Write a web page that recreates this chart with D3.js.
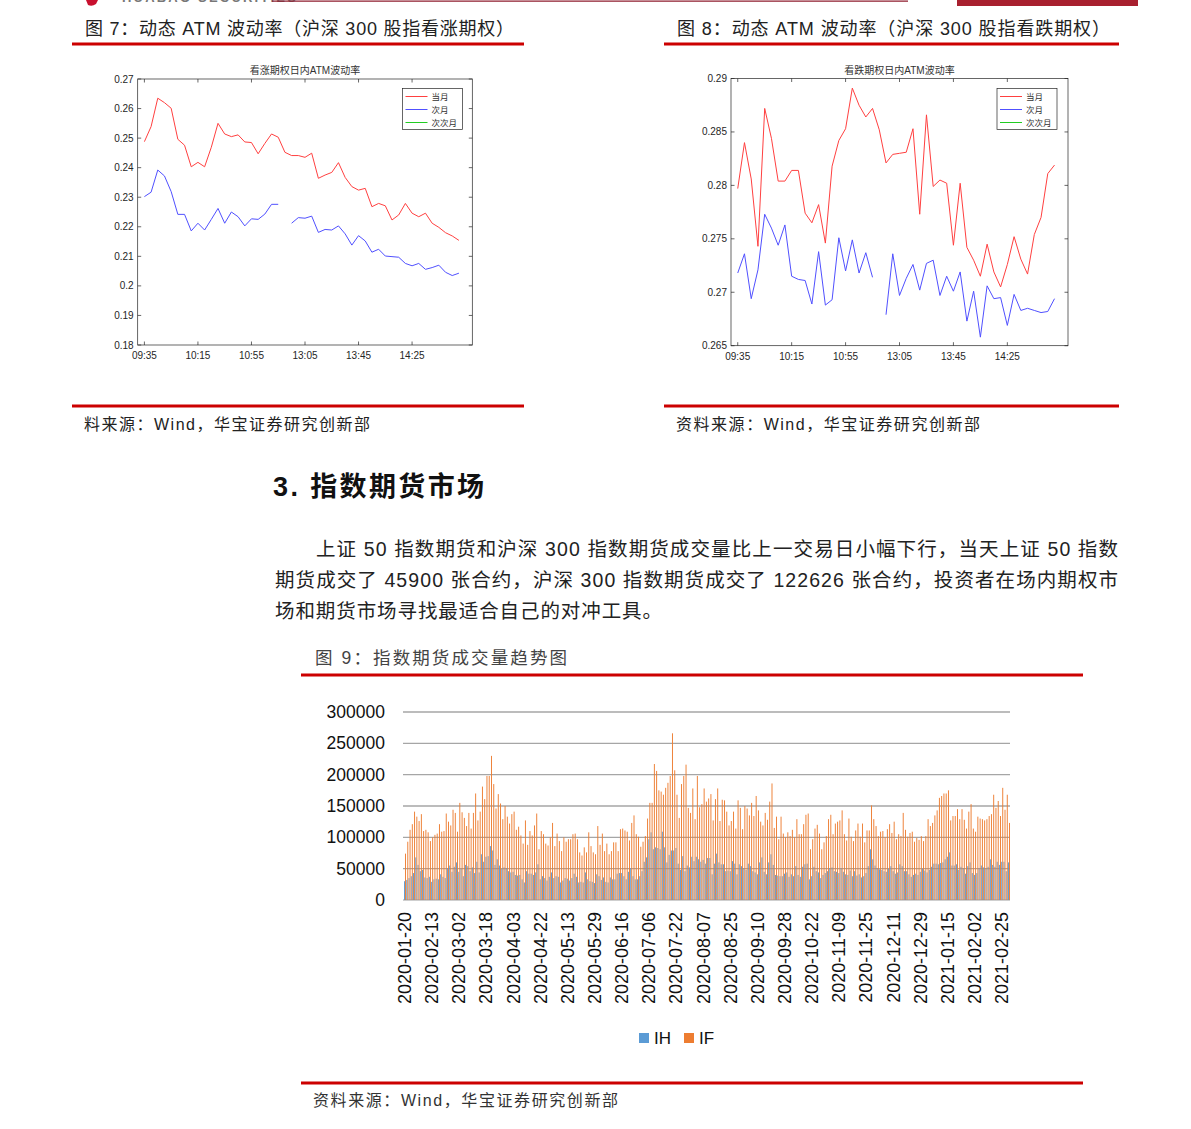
<!DOCTYPE html>
<html><head><meta charset="utf-8">
<script src="https://cdn.jsdelivr.net/npm/d3@7"></script>
<style>body{margin:0;background:#fff}svg{display:block}</style>
</head><body><svg id="c" width="1191" height="1129"></svg>
<script>
// ---------- data: intraday ATM volatility ----------
const times = ["09:35","09:40","09:45","09:50","09:55","10:00","10:05","10:10","10:15","10:20","10:25","10:30","10:35","10:40","10:45","10:50","10:55","11:00","11:05","11:10","11:15","11:20","11:25","11:30","13:05","13:10","13:15","13:20","13:25","13:30","13:35","13:40","13:45","13:50","13:55","14:00","14:05","14:10","14:15","14:20","14:25","14:30","14:35","14:40","14:45","14:50","14:55","15:00"];
const timeTickLabels = ["09:35","10:15","10:55","13:05","13:45","14:25"];
const legendNames = ["当月","次月","次次月"];

const callFront = [0.2488,0.2539,0.2635,0.2620,0.2601,0.2496,0.2476,0.2403,0.2418,0.2403,0.2469,0.2550,0.2514,0.2505,0.2511,0.2487,0.2485,0.2447,0.2482,0.2514,0.2503,0.2452,0.2441,0.2441,0.2435,0.2449,0.2364,0.2375,0.2384,0.2417,0.2367,0.2336,0.2324,0.2330,0.2268,0.2279,0.2271,0.2223,0.2240,0.2279,0.2246,0.2234,0.2246,0.2212,0.2198,0.2180,0.2169,0.2154];
const callNext = [0.2302,0.2317,0.2392,0.2372,0.2319,0.2242,0.2242,0.2186,0.2212,0.2189,0.2225,0.2262,0.2212,0.2250,0.2234,0.2203,0.2227,0.2225,0.2243,0.2276,0.2276,null,0.2212,0.2231,0.2229,0.2236,0.2181,0.2191,0.2189,0.2203,0.2176,0.2138,0.2170,0.2152,0.2114,0.2124,0.2101,0.2099,0.2097,0.2076,0.2068,0.2076,0.2056,0.2062,0.2070,0.2046,0.2035,0.2043];
const callYTicks = [0.18,0.19,0.20,0.21,0.22,0.23,0.24,0.25,0.26,0.27];

const putFront = [0.2797,0.2840,0.2806,0.2743,0.2872,0.2844,0.2804,0.2804,0.2814,0.2814,0.2774,0.2765,0.2782,0.2746,0.2818,0.2842,0.2853,0.2891,0.2875,0.2864,0.2872,0.2852,0.2821,0.2829,0.2830,0.2831,0.2853,0.2773,0.2866,0.2799,0.2805,0.2802,0.2744,0.2802,0.2742,0.2730,0.2715,0.2745,0.2719,0.2705,0.2726,0.2752,0.2731,0.2717,0.2754,0.2770,0.2811,0.2819];
const putNext = [0.2718,0.2736,0.2694,0.2721,0.2773,0.2760,0.2744,0.2763,0.2715,0.2712,0.2711,0.2689,0.2738,0.2688,0.2693,0.2751,0.2720,0.2749,0.2718,0.2737,0.2714,null,0.2679,0.2736,0.2697,0.2713,0.2726,0.2702,0.2727,0.2730,0.2697,0.2715,0.2701,0.2719,0.2673,0.2701,0.2658,0.2706,0.2694,0.2695,0.2669,0.2698,0.2683,0.2685,0.2683,0.2681,0.2682,0.2694];
const putYTicks = [0.265,0.27,0.275,0.28,0.285,0.29];

// ---------- data: index futures volume ----------
const dateTickLabels = ["2020-01-20","2020-02-13","2020-03-02","2020-03-18","2020-04-03","2020-04-22","2020-05-13","2020-05-29","2020-06-16","2020-07-06","2020-07-22","2020-08-07","2020-08-25","2020-09-10","2020-09-28","2020-10-22","2020-11-09","2020-11-25","2020-12-11","2020-12-29","2021-01-15","2021-02-02","2021-02-25"];
const ihVolume = [30000,32000,35000,38000,43000,68000,56000,46000,48000,36000,35000,37000,29000,33000,34000,33000,41000,37000,35000,51000,55000,45000,53000,60000,45000,50000,38000,56000,54000,46000,52000,43000,61000,44000,73000,61000,69000,70000,86000,79000,56000,65000,55000,50000,52000,51000,46000,44000,45000,40000,39000,40000,33000,28000,46000,42000,42000,40000,44000,57000,33000,38000,35000,31000,37000,44000,35000,
38000,37000,28000,31000,35000,34000,31000,35000,42000,37000,28000,29000,28000,44000,33000,30000,29000,27000,41000,38000,32000,36000,29000,28000,36000,33000,33000,42000,43000,43000,38000,33000,45000,51000,38000,33000,33000,38000,46000,61000,68000,97000,108000,81000,84000,83000,81000,109000,84000,60000,72000,79000,79000,83000,58000,48000,70000,46000,55000,52000,69000,62000,69000,65000,61000,64000,58000,
67000,67000,41000,58000,74000,60000,57000,57000,46000,47000,46000,62000,58000,41000,57000,54000,51000,48000,58000,54000,46000,44000,41000,60000,68000,45000,41000,60000,73000,56000,40000,39000,38000,38000,42000,44000,37000,41000,38000,54000,40000,37000,53000,57000,58000,33000,38000,53000,46000,44000,35000,40000,43000,46000,51000,52000,46000,45000,43000,51000,45000,41000,40000,47000,38000,46000,39000,
41000,36000,38000,43000,54000,81000,65000,55000,51000,49000,48000,46000,45000,50000,54000,46000,42000,44000,57000,54000,46000,46000,41000,37000,40000,42000,40000,45000,50000,47000,44000,48000,53000,58000,58000,57000,59000,60000,65000,69000,76000,55000,55000,57000,48000,53000,51000,42000,54000,60000,43000,40000,43000,51000,55000,52000,51000,53000,65000,56000,53000,61000,56000,61000,61000,46000,60000];
const ifVolume = [74000,93000,112000,121000,141000,133000,126000,137000,110000,112000,108000,94000,100000,104000,106000,121000,109000,110000,138000,125000,119000,144000,139000,109000,155000,140000,131000,118000,139000,114000,139000,170000,127000,141000,181000,161000,198000,198000,230000,185000,146000,169000,154000,129000,150000,133000,122000,137000,141000,112000,117000,103000,90000,127000,88000,110000,103000,119000,138000,81000,110000,105000,90000,87000,100000,123000,86000,
106000,94000,78000,100000,93000,97000,97000,105000,106000,97000,76000,71000,84000,76000,108000,86000,76000,73000,118000,88000,106000,78000,90000,73000,78000,92000,92000,78000,113000,114000,111000,109000,95000,123000,135000,105000,101000,85000,93000,102000,130000,155000,155000,217000,206000,175000,173000,168000,179000,187000,198000,266000,207000,168000,131000,185000,198000,216000,147000,139000,178000,129000,198000,148000,153000,178000,157000,
162000,169000,127000,161000,178000,126000,160000,159000,141000,119000,126000,141000,114000,159000,147000,113000,150000,146000,135000,155000,134000,166000,143000,125000,119000,139000,128000,157000,186000,115000,133000,97000,133000,106000,100000,108000,102000,112000,100000,129000,105000,105000,121000,136000,138000,81000,97000,114000,120000,106000,81000,92000,102000,129000,136000,105000,122000,125000,127000,143000,105000,95000,130000,101000,94000,111000,122000,
101000,122000,92000,111000,111000,151000,129000,118000,102000,109000,110000,100000,113000,121000,107000,125000,97000,105000,102000,139000,112000,101000,107000,109000,93000,99000,96000,102000,94000,102000,129000,118000,123000,135000,143000,163000,166000,170000,170000,175000,127000,134000,134000,145000,129000,145000,128000,114000,141000,153000,114000,109000,133000,130000,129000,127000,129000,134000,137000,168000,147000,158000,134000,179000,144000,168000,123000];
const volYTicks = [0,50000,100000,150000,200000,250000,300000];
const seriesNames = ["IH","IF"];
const seriesColors = ["#5b9bd5","#ed7d31"];

// ---------- page ----------
const svg = d3.select("#c");
const CJK = "'Liberation Sans','Noto Sans CJK SC',sans-serif";
const LAT = "'Liberation Sans',Arial,sans-serif";
const RED = "#cc0000";

// top header remnants
svg.append("path").attr("d","M86,0 L98,0 L96,4 Q92,7 88,5 Z").attr("fill","#c8102e");
svg.append("text").attr("x",122).attr("y",2).attr("font-family",LAT).attr("font-weight","bold")
  .attr("font-size",13).attr("fill","#777").attr("letter-spacing",2.2).text("HUABAO SECURITIES");
svg.append("line").attr("x1",272).attr("x2",908).attr("y1",1.2).attr("y2",1.2).attr("stroke","#8e1b2c").attr("stroke-width",1.2);
svg.append("rect").attr("x",957).attr("y",0).attr("width",181).attr("height",6).attr("fill","#a8202f");

function txt(x,y,s,size,opts={}){
  const t = svg.append("text").attr("x",x).attr("y",y).attr("font-family",opts.family||CJK)
    .attr("font-size",size).attr("fill",opts.fill||"#222").text(s);
  if(opts.len){t.attr("textLength",opts.len).attr("lengthAdjust","spacing");}
  if(opts.weight) t.attr("font-weight",opts.weight);
  return t;
}
function redLine(x1,x2,y){
  svg.append("line").attr("x1",x1).attr("x2",x2).attr("y1",y).attr("y2",y).attr("stroke",RED).attr("stroke-width",3);
}

// figure 7 / 8 headers & footers
txt(85,35,"图 7：动态 ATM 波动率（沪深 300 股指看涨期权）",18,{len:429});
redLine(72,524,44);
txt(677,35,"图 8：动态 ATM 波动率（沪深 300 股指看跌期权）",18,{len:433});
redLine(664,1119,44);
redLine(72,524,406);
redLine(664,1119,406);
txt(84,430,"料来源：Wind，华宝证券研究创新部",16,{len:286});
txt(676,430,"资料来源：Wind，华宝证券研究创新部",16,{len:304});

// section text
txt(273,496,"3. 指数期货市场",27,{weight:"bold",len:211,fill:"#111"});
txt(316,556,"上证 50 指数期货和沪深 300 指数期货成交量比上一交易日小幅下行，当天上证 50 指数",19.5,{len:802});
txt(275,587,"期货成交了 45900 张合约，沪深 300 指数期货成交了 122626 张合约，投资者在场内期权市",19.5,{len:843});
txt(275,618,"场和期货市场寻找最适合自己的对冲工具。",19.5,{len:387});

txt(315,664,"图 9：指数期货成交量趋势图",17.5,{len:252,fill:"#444"});
redLine(301,1083,675);
redLine(301,1083,1083);
txt(313,1106,"资料来源：Wind，华宝证券研究创新部",16,{len:305,fill:"#333"});

// ---------- MATLAB-like line charts ----------
function lineChart(c){
  const g = svg.append("g");
  const x = d3.scaleLinear().domain([-1,49]).range([c.x0,c.x1]);
  const y = d3.scaleLinear().domain([c.yTicks[0],c.yTicks[c.yTicks.length-1]]).range([c.y1,c.y0]);
  const ax = "#262626", tl = 3.5;
  g.append("text").attr("x",(c.x0+c.x1)/2).attr("y",c.y0-5).attr("text-anchor","middle")
    .attr("font-family",CJK).attr("font-size",10).attr("fill","#333").text(c.title);
  c.yTicks.forEach(v=>{
    const yy = y(v);
    g.append("line").attr("x1",c.x0).attr("x2",c.x0+tl).attr("y1",yy).attr("y2",yy).attr("stroke",ax).attr("stroke-width",0.7);
    g.append("line").attr("x1",c.x1).attr("x2",c.x1-tl).attr("y1",yy).attr("y2",yy).attr("stroke",ax).attr("stroke-width",0.7);
    g.append("text").attr("x",c.x0-4).attr("y",yy+3.5).attr("text-anchor","end").attr("font-family",LAT)
      .attr("font-size",10).attr("fill","#262626").text(d3.format("~g")(v));
  });
  timeTickLabels.forEach(lab=>{
    const xx = x(times.indexOf(lab));
    g.append("line").attr("x1",xx).attr("x2",xx).attr("y1",c.y1).attr("y2",c.y1-tl).attr("stroke",ax).attr("stroke-width",0.7);
    g.append("line").attr("x1",xx).attr("x2",xx).attr("y1",c.y0).attr("y2",c.y0+tl).attr("stroke",ax).attr("stroke-width",0.7);
    g.append("text").attr("x",xx).attr("y",c.y1+14).attr("text-anchor","middle").attr("font-family",LAT)
      .attr("font-size",10).attr("fill","#262626").text(lab);
  });
  const line = d3.line().defined(d=>d!=null).x((d,i)=>x(i)).y(d=>y(d));
  g.append("path").datum(c.front).attr("d",line).attr("fill","none").attr("stroke","#ff4040").attr("stroke-width",1);
  g.append("path").datum(c.next).attr("d",line).attr("fill","none").attr("stroke","#5050ff").attr("stroke-width",1);
  g.append("rect").attr("x",c.x0).attr("y",c.y0).attr("width",c.x1-c.x0).attr("height",c.y1-c.y0)
    .attr("fill","none").attr("stroke",ax).attr("stroke-width",0.7);
  // legend
  const lg = g.append("g").attr("transform",`translate(${c.lx},${c.ly})`);
  lg.append("rect").attr("width",60).attr("height",41).attr("fill","#fff").attr("stroke","#262626").attr("stroke-width",0.7);
  const lc = ["#ff4040","#5050ff","#22cc22"];
  legendNames.forEach((n,i)=>{
    const yy = 8 + i*13;
    lg.append("line").attr("x1",3).attr("x2",25).attr("y1",yy).attr("y2",yy).attr("stroke",lc[i]).attr("stroke-width",1);
    lg.append("text").attr("x",29).attr("y",yy+3.2).attr("font-family",CJK).attr("font-size",8.5).attr("fill","#333").text(n);
  });
}
lineChart({title:"看涨期权日内ATM波动率",x0:137.7,x1:472.3,y0:79,y1:345,yTicks:callYTicks,front:callFront,next:callNext,lx:402.5,ly:88.5});
lineChart({title:"看跌期权日内ATM波动率",x0:731,x1:1068,y0:78.5,y1:345.7,yTicks:putYTicks,front:putFront,next:putNext,lx:997,ly:88.5});

// ---------- bar chart ----------
(function(){
  const n = ifVolume.length;
  const idx = d3.range(n);
  const x = d3.scaleBand().domain(idx).range([404,1010]).paddingInner(0.12);
  const xi = d3.scaleBand().domain(seriesNames).range([0,x.bandwidth()]).paddingInner(0.1);
  const y = d3.scaleLinear().domain([0,300000]).range([900,712]);
  const g = svg.append("g");
  volYTicks.forEach(v=>{
    g.append("line").attr("x1",403).attr("x2",1010).attr("y1",y(v)).attr("y2",y(v))
      .attr("stroke", v===0 ? "#bfbfbf" : "#a6a6a6").attr("stroke-width",1.3);
    g.append("text").attr("x",385).attr("y",y(v)+6).attr("text-anchor","end").attr("font-family",LAT)
      .attr("font-size",17.5).attr("fill","#111").text(String(v));
  });
  const data = [ihVolume, ifVolume];
  data.forEach((arr,s)=>{
    g.append("g").selectAll("rect").data(arr).join("rect")
      .attr("x",(d,i)=>x(i)+xi(seriesNames[s]))
      .attr("width",xi.bandwidth())
      .attr("y",d=>y(d)).attr("height",d=>y(0)-y(d))
      .attr("fill",seriesColors[s]);
  });
  dateTickLabels.forEach((lab,k)=>{
    const xx = x(k*12)+x.bandwidth()/2;
    g.append("text").attr("transform",`translate(${xx},912) rotate(-90)`).attr("text-anchor","end")
      .attr("dominant-baseline","central").attr("font-family",LAT).attr("font-size",18).attr("fill","#111").text(lab);
  });
  // legend
  const lx = [639,684];
  seriesNames.forEach((nm,i)=>{
    g.append("rect").attr("x",lx[i]).attr("y",1033).attr("width",10).attr("height",10).attr("fill",seriesColors[i]);
    g.append("text").attr("x",lx[i]+15).attr("y",1044).attr("font-family",LAT).attr("font-size",17).attr("fill","#111").text(nm);
  });
})();
</script></body></html>
